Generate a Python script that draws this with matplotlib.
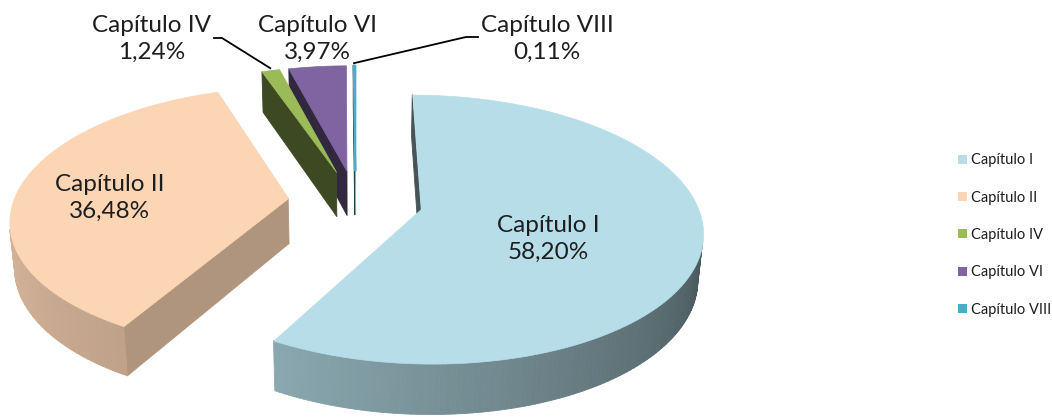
import matplotlib
matplotlib.use("Agg")
import matplotlib.pyplot as plt
from matplotlib.collections import PolyCollection
from matplotlib.patches import Patch
import numpy as np


CATEGORIES = ["Capítulo I", "Capítulo II", "Capítulo IV", "Capítulo VI", "Capítulo VIII"]
SHARES = [58.20, 36.48, 1.24, 3.97, 0.11]
SHARE_LABELS = ["58,20%", "36,48%", "1,24%", "3,97%", "0,11%"]
COLORS = ["#B7DEE8", "#FCD5B5", "#9BBB59", "#8064A2", "#4BACC6"]

# label anchor (pixel) and optional leader start for each slice
LABEL_POS = [(548, 239), (110, 198), (152, 39), (317, 39), (547, 39)]
LEADER_FROM = [None, None, (214, 38), None, (478, 37)]

W, H = 1052, 417
ELEV = np.radians(28)
DIST = 6.0
SCALE = 275.0
CENTER = (355.0, 201.0)
EXPLODE = 0.245
THICK = 0.19
CAM = DIST * np.array([0.0, -np.cos(ELEV), np.sin(ELEV)])
FONT = ["Lato", "DejaVu Sans"]
TEXT_COLOR = "#1e1e1e"


def project(pts):
    pts = np.atleast_2d(pts)
    x, y, z = pts[:, 0], pts[:, 1], pts[:, 2]
    depth = DIST + y * np.cos(ELEV) - z * np.sin(ELEV)
    xs = x * DIST / depth
    ys = (y * np.sin(ELEV) + z * np.cos(ELEV)) * DIST / depth
    return np.column_stack([CENTER[0] + SCALE * xs, CENTER[1] - SCALE * ys])


def depth_of(pts):
    pts = np.atleast_2d(pts)
    return float(np.mean(DIST + pts[:, 1] * np.cos(ELEV) - pts[:, 2] * np.sin(ELEV)))


def shade(color, f):
    rgb = np.array(matplotlib.colors.to_rgb(color))
    return tuple(np.clip(rgb * f, 0, 1))


def facing(normal, point):
    return float(np.dot(normal, CAM - point)) > 0


def build_slice(t1, t2, color):
    mid = (t1 + t2) / 2
    apex = EXPLODE * np.array([np.sin(mid), np.cos(mid), 0.0])
    n = max(2, int(np.degrees(t2 - t1)) + 2)
    ts = np.linspace(t1, t2, n)
    rim = apex + np.column_stack([np.sin(ts), np.cos(ts), np.zeros_like(ts)])
    down = np.array([0.0, 0.0, -THICK])

    sides = []
    # outer wall, shaded lighter towards the left
    for k in range(n - 1):
        tm = (ts[k] + ts[k + 1]) / 2
        quad = np.array([rim[k], rim[k + 1], rim[k + 1] + down, rim[k] + down])
        normal = np.array([np.sin(tm), np.cos(tm), 0.0])
        if facing(normal, quad.mean(axis=0)):
            f = np.interp(np.degrees(tm) % 360, [100, 210, 270], [0.38, 0.76, 0.87])
            sides.append((depth_of(quad), project(quad), shade(color, f)))
    # radial cut faces
    for rp, normal in [
        (rim[0], np.array([-np.cos(t1), np.sin(t1), 0.0])),
        (rim[-1], np.array([np.cos(t2), -np.sin(t2), 0.0])),
    ]:
        quad = np.array([apex, rp, rp + down, apex + down])
        if facing(normal, quad.mean(axis=0)):
            f = np.interp(normal[0], [-1, 1], [0.38, 0.72])
            sides.append((depth_of(quad), project(quad), shade(color, f)))

    sides.sort(key=lambda s: -s[0])
    top = project(np.vstack([apex, rim]))
    return apex, sides, top, rim


fig = plt.figure(figsize=(W / 100, H / 100), dpi=100)
ax = fig.add_axes([0, 0, 1, 1])
ax.set_xlim(0, W)
ax.set_ylim(H, 0)
ax.axis("off")

fracs = np.array(SHARES) / np.sum(SHARES)
bounds = np.concatenate([[0], np.cumsum(fracs)]) * 2 * np.pi
slices = []
for i, color in enumerate(COLORS):
    apex, sides, top, rim = build_slice(bounds[i], bounds[i + 1], color)
    slices.append((apex, sides, top, rim, color))

# paint far slices first
for apex, sides, top, rim, color in sorted(slices, key=lambda s: -s[0][1]):
    if sides:
        pc = PolyCollection([s[1] for s in sides], facecolors=[s[2] for s in sides],
                            edgecolors=[s[2] for s in sides], linewidths=0.6)
        ax.add_collection(pc)
    lw = 1.5 if len(rim) <= 3 else 0.5
    ax.add_collection(PolyCollection([top], facecolors=[color], edgecolors=[color], linewidths=lw))

for i, name in enumerate(CATEGORIES):
    x, y = LABEL_POS[i]
    ax.text(x, y, f"{name}\n{SHARE_LABELS[i]}", ha="center", va="center", fontsize=17.5,
            family=FONT, color=TEXT_COLOR, linespacing=1.3)
    if LEADER_FROM[i] is not None:
        t = (bounds[i] + bounds[i + 1]) / 2
        apex = slices[i][0]
        tip = project(apex + np.array([np.sin(t), np.cos(t), 0.0]))[0]
        lx, ly = LEADER_FROM[i]
        step = 8 if lx < tip[0] else -12
        ax.plot([lx, lx + step, tip[0]], [ly, ly, tip[1] - 2], color="black", lw=1.3)

handles = [Patch(facecolor=c, edgecolor="none", label=n) for c, n in zip(COLORS, CATEGORIES)]
ax.legend(handles=handles, loc="upper left", bbox_to_anchor=(951 / W, 1 - 146 / H), frameon=False,
          prop={"family": FONT, "size": 10.5}, handlelength=0.6, handleheight=0.6,
          handletextpad=0.25, labelspacing=1.6, borderpad=0, labelcolor=TEXT_COLOR)

fig.savefig("out.png", dpi=100)
